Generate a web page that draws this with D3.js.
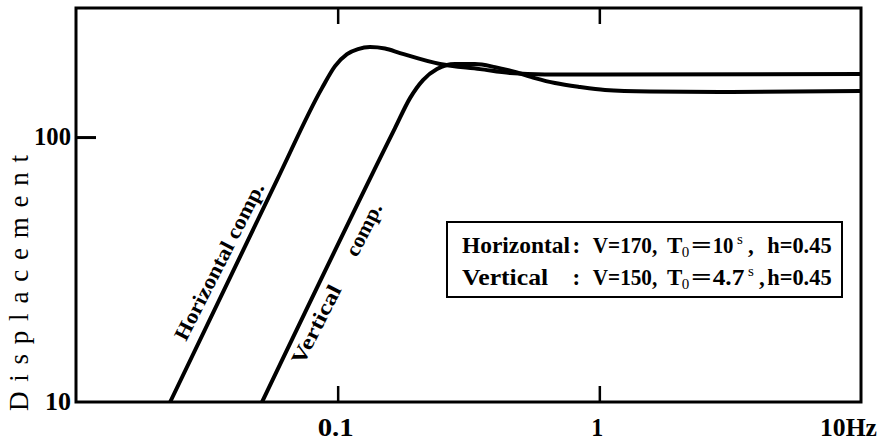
<!DOCTYPE html>
<html>
<head>
<meta charset="utf-8">
<script src="https://cdn.jsdelivr.net/npm/d3@7"></script>
<style>
  html, body { margin: 0; padding: 0; background: #fff; }
  svg { display: block; }
  text { font-family: "Liberation Serif", "DejaVu Serif", serif; fill: #000; }
</style>
</head>
<body>
<div id="chart"></div>
<script>
// 读出来的数据 (频率 Hz, 位移)
const horizontalFreq = [0.0229, 0.0586, 0.0871, 0.0977, 0.1086, 0.1196, 0.1329, 0.1517, 0.1731, 0.2461, 0.350, 0.4557, 0.6198, 1.0, 10];
const horizontalDisp = [10, 68.8, 153.0, 185.3, 205.7, 214.8, 218.6, 215.8, 207.5, 188.6, 180.5, 174.4, 172.2, 172.2, 172.9];

const verticalFreq = [0.0514, 0.1656, 0.189, 0.2119, 0.2397, 0.2808, 0.3347, 0.3994, 0.4762, 0.5676, 0.677, 0.8436, 1.051, 1.562, 2.891, 10];
const verticalDisp = [10, 108.1, 140.3, 164.1, 180.5, 188.6, 188.6, 183.7, 176.0, 167.0, 159.9, 154.4, 150.5, 148.5, 147.8, 149.1];

const xTicks = [0.1, 1, 10];
const xTickLabels = ['0.1', '1', '10Hz'];
const yTicks = [10, 100];
const yTickLabels = ['10', '100'];

const width = 878, height = 440;
const margin = {top: 8, right: 17, bottom: 38, left: 76};
const boundW = width - margin.left - margin.right;
const boundH = height - margin.top - margin.bottom;

const svg = d3.select('#chart').append('svg')
    .attr('width', width)
    .attr('height', height);

const x = d3.scaleLog().domain([0.01, 10]).range([margin.left, margin.left + boundW]);
const y = d3.scaleLog().domain([10, 307]).range([margin.top + boundH, margin.top]);

// 刻度 (向内)
svg.append('g')
    .attr('transform', `translate(0,${margin.top + boundH})`)
    .call(d3.axisBottom(x).tickValues(xTicks.slice(0, 2)).tickSize(-16).tickFormat(''))
    .call(g => g.select('.domain').remove())
    .selectAll('line').attr('stroke', '#000').attr('stroke-width', 2.5);

svg.append('g')
    .attr('transform', `translate(0,${margin.top})`)
    .call(d3.axisTop(x).tickValues(xTicks.slice(0, 2)).tickSize(-16).tickFormat(''))
    .call(g => g.select('.domain').remove())
    .selectAll('line').attr('stroke', '#000').attr('stroke-width', 2.5);

svg.append('g')
    .attr('transform', `translate(${margin.left},0)`)
    .call(d3.axisLeft(y).tickValues([100]).tickSize(-20).tickFormat(''))
    .call(g => g.select('.domain').remove())
    .selectAll('line').attr('stroke', '#000').attr('stroke-width', 3);

// 外框
svg.append('rect')
    .attr('x', margin.left)
    .attr('y', margin.top)
    .attr('width', boundW)
    .attr('height', boundH)
    .attr('fill', 'none')
    .attr('stroke', '#000')
    .attr('stroke-width', 3);

// 刻度文字
const tickLen = {'0.1': 36, '1': 12, '10Hz': 57, '10': 26, '100': 37};
xTicks.forEach((t, i) => {
    const label = xTickLabels[i];
    const last = i === xTicks.length - 1;
    svg.append('text')
        .attr('x', last ? width - 1 : x(t) - 2)
        .attr('y', 436)
        .attr('text-anchor', last ? 'end' : 'middle')
        .attr('font-size', 25)
        .attr('font-weight', 'bold')
        .attr('textLength', tickLen[label])
        .attr('lengthAdjust', 'spacingAndGlyphs')
        .text(label);
});
yTicks.forEach((t, i) => {
    const label = yTickLabels[i];
    svg.append('text')
        .attr('x', margin.left - 5)
        .attr('y', y(t) + 8)
        .attr('text-anchor', 'end')
        .attr('font-size', 25)
        .attr('font-weight', 'bold')
        .attr('textLength', tickLen[label])
        .attr('lengthAdjust', 'spacingAndGlyphs')
        .text(label);
});

// y 轴标题
svg.append('text')
    .attr('transform', `translate(28,283) rotate(-90)`)
    .attr('text-anchor', 'middle')
    .attr('font-size', 27)
    .attr('textLength', 256)
    .attr('lengthAdjust', 'spacing')
    .text('Displacement');

// 曲线
const line = d3.line()
    .x(d => x(d[0]))
    .y(d => y(d[1]))
    .curve(d3.curveMonotoneX);

const series = [
    d3.zip(horizontalFreq, horizontalDisp),
    d3.zip(verticalFreq, verticalDisp)
];

svg.append('g')
    .selectAll('path')
    .data(series)
    .join('path')
    .attr('d', line)
    .attr('fill', 'none')
    .attr('stroke', '#000')
    .attr('stroke-width', 4)
    .attr('stroke-linejoin', 'round');

// 曲线旁的文字
const curveLabels = [
    {text: 'Horizontal comp.', x: 186, y: 342, len: 174},
    {text: 'Vertical', x: 303, y: 366, len: 86},
    {text: 'comp.', x: 357, y: 258, len: 57}
];
svg.append('g')
    .selectAll('text')
    .data(curveLabels)
    .join('text')
    .attr('transform', d => `translate(${d.x},${d.y}) rotate(-63)`)
    .attr('font-size', 21)
    .attr('font-weight', 'bold')
    .attr('textLength', d => d.len)
    .attr('lengthAdjust', 'spacingAndGlyphs')
    .text(d => d.text);

// 图例框
const legend = svg.append('g');
legend.append('rect')
    .attr('x', 447)
    .attr('y', 222)
    .attr('width', 395)
    .attr('height', 75)
    .attr('fill', '#fff')
    .attr('stroke', '#000')
    .attr('stroke-width', 2);

// 等宽排版: 每段 [文字, 起始格, 格数, 类型]
const cell = 10.9;
const legendX = 462;
const legendSegments = [
    [['Horizontal', 0, 10], [':', 10, 1], ['V=170,', 12, 6], ['T', 19, 1], ['0', 20, 1, 'sub'], ['=', 21, 2], ['10', 23, 2], ['s', 25, 1, 'sup'], [',', 26, 1], ['h=0.45', 28, 6]],
    [['Vertical', 0, 8], [':', 10, 1], ['V=150,', 12, 6], ['T', 19, 1], ['0', 20, 1, 'sub'], ['=', 21, 2], ['4.7', 23, 3], ['s', 26, 1, 'sup'], [',', 27, 1], ['h=0.45', 28, 6]]
];
const baselines = [253, 285];

legendSegments.forEach((segs, li) => {
    const t = legend.append('text')
        .attr('y', baselines[li])
        .attr('font-size', 23)
        .attr('font-weight', 'bold');
    segs.forEach(([s, c, n, kind]) => {
        const span = t.append('tspan')
            .attr('x', legendX + c * cell + (n === 1 ? cell / 2 : 0))
            .attr('y', baselines[li] + (kind === 'sub' ? 4 : kind === 'sup' ? -9 : 0))
            .attr('text-anchor', n === 1 ? 'middle' : 'start')
            .text(s);
        if (kind) span.attr('font-size', 15).attr('font-weight', 'normal');
        if (n > 1) span.attr('textLength', n * cell - 1).attr('lengthAdjust', 'spacingAndGlyphs');
    });
});
</script>
</body>
</html>
